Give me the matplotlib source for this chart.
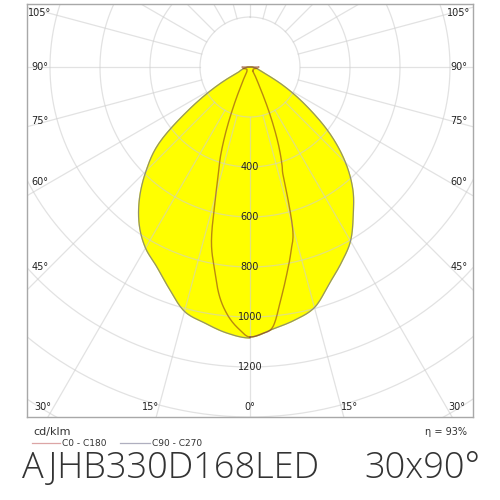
import numpy as np
import matplotlib
matplotlib.use("Agg")
from matplotlib import pyplot as plt

outer_ang = [0, 5, 10, 15, 20, 25, 30, 35, 40, 45, 50, 55, 60, 65, 70, 75, 80, 85, 90]
c90 = [1080, 1052, 1028, 996, 924, 864, 804, 720, 640, 540, 420, 284, 170, 80, 48, 32, 20, 12, 8]
c270 = [1084, 1068, 1040, 1012, 944, 882, 836, 772, 688, 588, 476, 300, 160, 60, 40, 28, 20, 12, 8]

inner_ang = [0, 2.5, 5, 7.5, 10, 12.5, 15, 16, 17, 18, 20, 22.5, 25, 30, 40, 50, 60, 70, 80, 90]
c0 = [1080, 1068, 1044, 940, 844, 756, 652, 552, 452, 416, 336, 220, 116, 40, 20, 16, 16, 20, 28, 36]
c180 = [1080, 1048, 1000, 928, 820, 712, 528, 472, 424, 388, 296, 180, 96, 40, 20, 16, 16, 20, 28, 32]

ring_values = [200, 400, 600, 800, 1000, 1200, 1400, 1600, 1800]
ring_labels = [400, 600, 800, 1000, 1200]
angle_labels = [0, 15, 30, 45, 60, 75, 90, 105]

product = "AJHB330D168LED"
beam = "30x90°"
efficiency = "η = 93%"


def smooth(xs, ys, n=12):
    # cubic hermite through the read points so the outline is not jagged
    xs = np.asarray(xs, float)
    ys = np.asarray(ys, float)
    m = np.gradient(ys, xs)
    m[0] = 0.0
    out_x, out_y = [], []
    for i in range(len(xs) - 1):
        h = xs[i + 1] - xs[i]
        t = np.linspace(0, 1, n, endpoint=False)
        h00 = 2 * t**3 - 3 * t**2 + 1
        h10 = t**3 - 2 * t**2 + t
        h01 = -2 * t**3 + 3 * t**2
        h11 = t**3 - t**2
        out_x.append(xs[i] + t * h)
        out_y.append(h00 * ys[i] + h10 * h * m[i] + h01 * ys[i + 1] + h11 * h * m[i + 1])
    out_x.append([xs[-1]])
    out_y.append([ys[-1]])
    return np.concatenate(out_x), np.clip(np.concatenate(out_y), 0, None)


def to_xy(ang, r, side):
    a, rr = smooth(ang, r)
    t = np.radians(a)
    return side * rr * np.sin(t), -rr * np.cos(t)


fig = plt.figure(figsize=(5, 5), dpi=100)
ax = fig.add_axes([0.054, 0.166, 0.892, 0.826])
ax.set_xlim(-892, 892)
ax.set_ylim(-1400, 252)
ax.set_aspect("equal")
ax.set_xticks([])
ax.set_yticks([])
for s in ax.spines.values():
    s.set_color("#a8a8a8")
    s.set_linewidth(1.0)

# yellow area from the C90 - C270 curve
xr, yr = to_xy(outer_ang, c90, 1)
xl, yl = to_xy(outer_ang, c270, -1)
ox = np.concatenate([xr, xl[::-1]])
oy = np.concatenate([yr, yl[::-1]])
ax.fill(ox, oy, color="#ffff00", zorder=1)
ax.plot(ox, oy, color="#6e6e8c", alpha=0.75, lw=0.9, zorder=4)

# grid on top of the fill
grid_kw = dict(color="#cfcfcf", alpha=0.6, lw=0.9, zorder=2)
tt = np.linspace(0, 2 * np.pi, 400)
for rv in ring_values:
    ax.plot(rv * np.sin(tt), rv * np.cos(tt), **grid_kw)
for a in range(0, 360, 15):
    t = np.radians(a)
    ax.plot([200 * np.sin(t), 2000 * np.sin(t)], [-200 * np.cos(t), -2000 * np.cos(t)], **grid_kw)

# C0 - C180 curve
ir_x, ir_y = to_xy(inner_ang, c0, 1)
il_x, il_y = to_xy(inner_ang, c180, -1)
ix = np.concatenate([ir_x, il_x[::-1]])
iy = np.concatenate([ir_y, il_y[::-1]])
ax.plot(ix, iy, color="#8b3a1a", alpha=0.6, lw=1.0, zorder=5)

# ring values
for rv in ring_labels:
    ax.text(0, -rv, str(rv), ha="center", va="center", fontsize=7, color="#222222", zorder=6)

# angle labels
for a in angle_labels:
    t = np.radians(a)
    if a <= 30:
        y = -1360
        sides = (1,) if a == 0 else (-1, 1)
        for sgn in sides:
            x = sgn * min(1480 * np.tan(t), 828)
            ax.text(x, y, f"{a}°", ha="center", va="center", fontsize=7, color="#222222")
    else:
        y = -800 / np.tan(t) if a != 90 else 0
        ax.text(-840, y, f"{a}°", ha="center", va="center", fontsize=7, color="#222222")
        ax.text(836, y, f"{a}°", ha="center", va="center", fontsize=7, color="#222222")

# bottom texts and legend
fig.text(33 / 500, 1 - 432 / 500, "cd/klm", ha="left", va="center", fontsize=8, color="#333333")
fig.text(467 / 500, 1 - 432 / 500, efficiency, ha="right", va="center", fontsize=7, color="#333333")
fig.add_artist(plt.Line2D([32 / 500, 60 / 500], [1 - 443 / 500] * 2, color="#a82020", alpha=0.4, lw=0.9))
fig.text(62 / 500, 1 - 443 / 500, "C0 - C180", ha="left", va="center", fontsize=6.5, color="#333333")
fig.add_artist(plt.Line2D([120 / 500, 150 / 500], [1 - 443 / 500] * 2, color="#6e6e8c", alpha=0.55, lw=0.9))
fig.text(152 / 500, 1 - 443 / 500, "C90 - C270", ha="left", va="center", fontsize=6.5, color="#333333")

fig.text(22 / 500, 1 - 478 / 500, product, ha="left", va="baseline", fontsize=26,
         family="Open Sans", fontweight="light", color="#333333")
fig.text(481 / 500, 1 - 478 / 500, beam, ha="right", va="baseline", fontsize=26,
         family="Open Sans", fontweight="light", color="#333333")

fig.savefig("out.png", dpi=100)
